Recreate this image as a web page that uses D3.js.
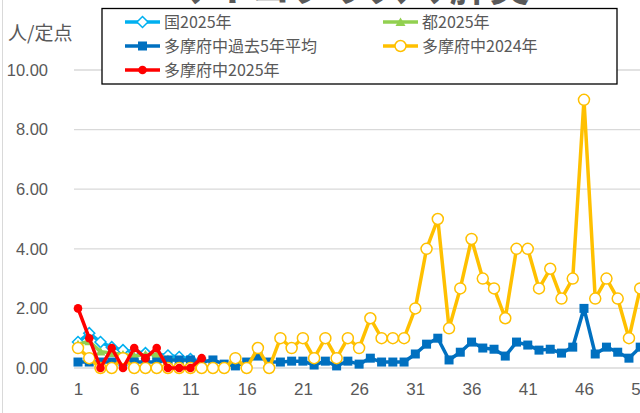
<!DOCTYPE html>
<html>
<head>
<meta charset="utf-8">
<title>マイコプラズマ肺炎</title>
<script src="https://cdnjs.cloudflare.com/ajax/libs/d3/7.8.5/d3.min.js"></script>
<style>
  html, body { margin: 0; padding: 0; background: #fff; }
  svg { display: block; font-family: "Liberation Sans", "Noto Sans CJK JP", sans-serif; }
</style>
</head>
<body>
<svg id="chart" width="640" height="413"></svg>
<script>
  // --- data ---
  var weeks = d3.range(1, 52);
  var xTicks = [1, 6, 11, 16, 21, 26, 31, 36, 41, 46, 51];
  var yTicks = [0, 2, 4, 6, 8, 10];

  var national2025 = [0.87, 1.17, 0.87, 0.7, 0.6, 0.55, 0.5, 0.45, 0.42, 0.37, 0.3];
  var metro2025    = [0.8, 0.9, 0.55, 0.5, 0.45, 0.4, 0.45, 0.45, 0.3, 0.25, 0.25];
  var tamaAvg5 = [0.2, 0.2, 0.2, 0.2, 0.2, 0.2, 0.2, 0.2, 0.27, 0.27,
                  0.27, 0.2, 0.27, 0.13, 0.07, 0.2, 0.4, 0.2, 0.2, 0.23,
                  0.23, 0.1, 0.23, 0.07, 0.23, 0.13, 0.33, 0.2, 0.2, 0.2,
                  0.47, 0.8, 1.0, 0.27, 0.53, 0.87, 0.67, 0.63, 0.4, 0.87,
                  0.77, 0.6, 0.63, 0.5, 0.7, 2.0, 0.47, 0.7, 0.53, 0.33, 0.7];
  var tama2024 = [0.67, 0.33, 0, 0, 0.33, 0, 0, 0, 0, 0,
                  0, 0, 0, 0, 0.33, 0, 0.67, 0, 1, 0.67,
                  1, 0.33, 1, 0.33, 1, 0.67, 1.67, 1, 1, 1,
                  2, 4, 5, 1.33, 2.67, 4.33, 3, 2.67, 1.67, 4,
                  4, 2.67, 3.33, 2.33, 3, 9, 2.33, 3, 2.33, 1, 2.67];
  var tama2025 = [2, 1, 0, 0.67, 0, 0.67, 0.33, 0.67, 0, 0, 0, 0.33];

  var series = [
    { name: "国2025年",             values: national2025, color: "#00B0F0", marker: "diamond" },
    { name: "都2025年",             values: metro2025,    color: "#92D050", marker: "triangle" },
    { name: "多摩府中過去5年平均",   values: tamaAvg5,     color: "#0070C0", marker: "square" },
    { name: "多摩府中2024年",        values: tama2024,     color: "#FFC000", marker: "circleOpen" },
    { name: "多摩府中2025年",        values: tama2025,     color: "#FF0000", marker: "dot" }
  ];

  var svg = d3.select("#chart");
  var textColor = "#595959";

  var x = d3.scaleLinear().domain([1, 51]).range([78, 640.2]);
  var y = d3.scaleLinear().domain([0, 10]).range([368, 70]);

  // chart area border (only the left edge is in view)
  svg.append("line").attr("x1", 2.5).attr("x2", 2.5).attr("y1", 0).attr("y2", 413)
    .attr("stroke", "#d9d9d9").attr("stroke-width", 1);

  // title, mostly scrolled off the top
  svg.append("text").attr("x", 350).attr("y", 1)
    .attr("text-anchor", "middle")
    .attr("font-family", "'Noto Sans CJK JP', sans-serif")
    .attr("font-size", 40).attr("font-weight", "bold")
    .attr("fill", textColor)
    .text("マイコプラズマ肺炎");

  // gridlines
  svg.append("g").selectAll("line").data(yTicks).join("line")
    .attr("x1", 74).attr("x2", 640)
    .attr("y1", function (d) { return y(d); }).attr("y2", function (d) { return y(d); })
    .attr("stroke", "#d9d9d9").attr("stroke-width", 1.3);

  // y axis labels
  var yAxis = d3.axisLeft(y).tickValues(yTicks).tickSize(0).tickPadding(0)
    .tickFormat(d3.format(".2f"));
  svg.append("g").attr("transform", "translate(48,0)").call(yAxis)
    .call(function (g) { g.select(".domain").remove(); })
    .selectAll("text").attr("font-size", 16.5).attr("fill", textColor)
    .attr("font-family", "'Liberation Sans', sans-serif");

  // x axis labels
  var xAxis = d3.axisBottom(x).tickValues(xTicks).tickSize(0).tickPadding(0)
    .tickFormat(d3.format("d"));
  svg.append("g").attr("transform", "translate(0,383)").call(xAxis)
    .call(function (g) { g.select(".domain").remove(); })
    .selectAll("text").attr("font-size", 17).attr("fill", textColor)
    .attr("font-family", "'Liberation Sans', sans-serif");

  // unit label
  svg.append("text").attr("x", 8).attr("y", 40)
    .attr("font-family", "'Noto Sans CJK JP', sans-serif")
    .attr("font-size", 19).attr("fill", textColor)
    .text("人/定点");

  function drawMarker(g, s, cx, cy) {
    if (s.marker === "diamond") {
      g.append("path").attr("d", "M0,-5.5L5.5,0L0,5.5L-5.5,0Z")
        .attr("transform", "translate(" + cx + "," + cy + ")")
        .attr("fill", "#fff").attr("stroke", s.color).attr("stroke-width", 1.5);
    } else if (s.marker === "triangle") {
      g.append("path").attr("d", "M0,-4.5L5,4L-5,4Z")
        .attr("transform", "translate(" + cx + "," + cy + ")")
        .attr("fill", s.color);
    } else if (s.marker === "square") {
      g.append("rect").attr("x", cx - 4.5).attr("y", cy - 4.5)
        .attr("width", 9).attr("height", 9).attr("fill", s.color);
    } else if (s.marker === "circleOpen") {
      g.append("circle").attr("cx", cx).attr("cy", cy).attr("r", 5.5)
        .attr("fill", "#fff").attr("stroke", s.color).attr("stroke-width", 1.5);
    } else {
      g.append("circle").attr("cx", cx).attr("cy", cy).attr("r", 4.3)
        .attr("fill", s.color);
    }
  }

  var line = d3.line()
    .x(function (d, i) { return x(weeks[i]); })
    .y(function (d) { return y(d); });

  series.forEach(function (s) {
    var g = svg.append("g");
    g.append("path").datum(s.values).attr("d", line)
      .attr("fill", "none").attr("stroke", s.color)
      .attr("stroke-width", 3.5).attr("stroke-linejoin", "round");
    s.values.forEach(function (v, i) { drawMarker(g, s, x(weeks[i]), y(v)); });
  });

  // legend
  var legend = svg.append("g");
  legend.append("rect").attr("x", 102).attr("y", 8.5).attr("width", 515).attr("height", 75.5)
    .attr("fill", "#fff").attr("stroke", "#000").attr("stroke-width", 1.3);
  var cols = [125, 383], rows = [22, 46, 70];
  series.forEach(function (s, i) {
    var lx = cols[i % 2], ly = rows[Math.floor(i / 2)];
    var g = legend.append("g");
    g.append("line").attr("x1", lx).attr("x2", lx + 35).attr("y1", ly).attr("y2", ly)
      .attr("stroke", s.color).attr("stroke-width", 3.5);
    drawMarker(g, s, lx + 17.5, ly);
    g.append("text").attr("x", lx + 39).attr("y", ly).attr("dy", "0.36em")
      .attr("font-family", "'Noto Sans CJK JP', sans-serif")
      .attr("font-size", 16).attr("fill", textColor)
      .text(s.name);
  });
</script>
</body>
</html>
